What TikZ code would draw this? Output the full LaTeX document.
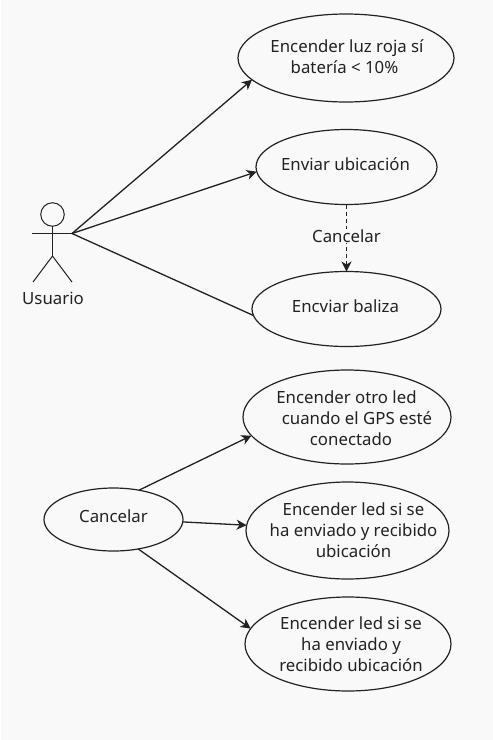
\documentclass[tikz,border=0pt]{standalone}
\usepackage{fontspec}
\setmainfont{Noto Sans}
\usetikzlibrary{shapes.geometric,arrows.meta}
\definecolor{ink}{HTML}{222222}
\definecolor{paper}{HTML}{F9F9F9}
\newcommand{\usecase}[3]{\raisebox{#2}{\smash{\kern#1\makebox[0pt]{\begin{tabular}{@{}c@{}}#3\end{tabular}}\kern-#1}}}
\tikzset{
  uc/.style={draw=ink,line width=1.2pt,ellipse,inner sep=0pt,outer sep=0pt,text=ink},
  conn/.style={draw=ink,line width=1.3pt},
  arr/.style={conn,-{Stealth[length=10pt,width=10pt,inset=3pt]}},
  actorline/.style={draw=ink,line width=1pt},
  every node/.append style={font=\fontsize{16.8}{21}\selectfont}
}
\begin{document}
\begin{tikzpicture}[x=1pt,y=-1pt]
\useasboundingbox (0,0) rectangle (493,740);
\fill[white] (0,0) rectangle (493,740);
\fill[paper] (1,0) rectangle (493,740);
% use cases
\node[uc,minimum width=216pt,minimum height=88pt] (e1) at (346,58) {\usecase{0pt}{-10pt}{\hspace*{2pt}Encender luz roja sí\\\hspace*{-3pt}batería < 10\%}};
\node[uc,minimum width=181pt,minimum height=75pt] (e2) at (346.5,167) {\usecase{-1pt}{-7pt}{Enviar ubicación}};
\node[uc,minimum width=189pt,minimum height=75pt] (e3) at (346.5,309) {\usecase{-1pt}{-8pt}{Encviar baliza}};
\node[uc,minimum width=208pt,minimum height=94pt] (e4) at (347,417) {\usecase{4pt}{-15.5pt}{Encender otro led\hspace*{9pt}\\\hspace*{12pt}cuando el GPS esté\\conectado}};
\node[uc,minimum width=203pt,minimum height=97pt] (e5) at (347.5,530.5) {\usecase{6pt}{-13pt}{Encender led si se\\ha enviado y recibido\\ubicación}};
\node[uc,minimum width=206pt,minimum height=94pt] (e6) at (348,644) {\usecase{3pt}{-14pt}{Encender led si se\\ha enviado y\\recibido ubicación}};
\node[uc,minimum width=139pt,minimum height=63pt] (c) at (113.5,519.5) {\usecase{0pt}{-7pt}{Cancelar}};
% actor
\node[draw=ink,line width=1pt,circle,minimum size=23.5pt,inner sep=0pt,outer sep=0pt] (head) at (52.5,214.5) {};
\coordinate (hand) at (72,233.5);
\coordinate (handl) at (32,233.5);
\coordinate (hip) at (52.5,256);
\coordinate (footl) at (33,282);
\coordinate (footr) at (72,282);
\draw[actorline] (head.south) -- (hip);
\draw[actorline] (handl) -- (hand);
\draw[actorline] (footl) -- (hip) -- (footr);
\node[text=ink] (usuario) at (53,298) {Usuario};
% connectors
\draw[arr] (hand) -- (e1.193);
\draw[arr] (hand) -- (e2.183);
\draw[conn] (hand) -- (e3.184);
\draw[arr,dashed,dash pattern=on 4pt off 3pt] (e2.south) -- node[fill=paper,text=ink,inner sep=1pt,yshift=2pt] (lbl) {Cancelar} (e3.north);
\draw[arr] (c.49) -- (e4.191);
\draw[arr] (c.-2) -- (e5.177);
\draw[arr] (c.-50) -- (e6.171);
\end{tikzpicture}
\end{document}
